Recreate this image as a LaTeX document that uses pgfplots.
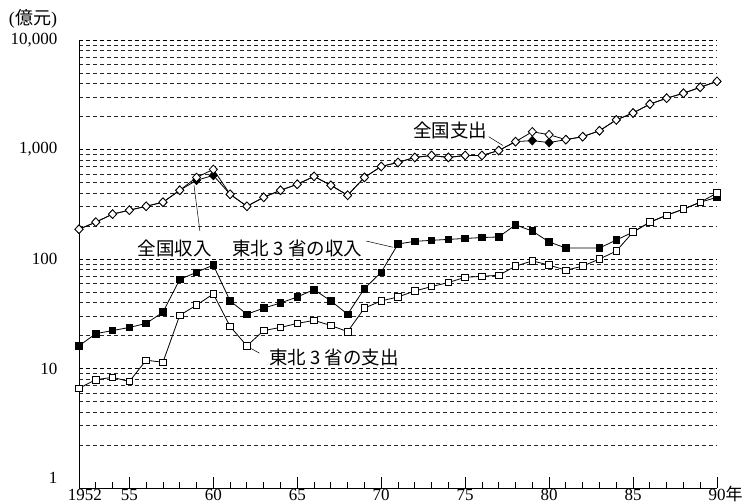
\documentclass[border=0pt]{standalone}
\usepackage{fontspec}
\setmainfont{Liberation Serif}
\newfontfamily\cjk{Noto Sans CJK JP}
\usepackage{pgfplots}
\pgfplotsset{compat=1.18}
\begin{document}
\begin{tikzpicture}
\useasboundingbox (-79bp,-16bp) rectangle (672bp,488bp);
\begin{axis}[
  at={(0,0)}, anchor=south west,
  scale only axis, width=638bp, height=448bp,
  xmin=1952, xmax=1990, ymode=log, ymin=0.81, ymax=10000,
  clip=false,
  axis x line=bottom, axis y line=left,
  axis line style={-, line width=0.9bp},
  xtick={1952,1955,1960,...,1990},
  xticklabels={{\hspace*{12bp}1952},55,60,65,70,75,80,85,{90\rlap{\cjk 年}}},
  minor xtick={1953,1954,...,1989},
  xtick align=inside,
  major tick length=11bp, minor tick length=6bp,
  xtick style={line width=0.8bp, black},
  ytick={10,100,1000,10000}, yticklabels={10,100,{1,000},{10,000}},
  extra y ticks={1}, extra y tick labels={1}, extra y tick style={grid=none},
  minor ytick={2,3,...,9,20,30,...,90,200,300,...,900,2000,3000,...,9000},
  ytick style={draw=none},
  ymajorgrids, yminorgrids,
  major grid style={dash pattern=on 4bp off 3bp, line width=0.5bp, black},
  minor grid style={dash pattern=on 4bp off 3bp, line width=0.5bp, black!85},
  tick label style={font=\fontsize{17bp}{17bp}\selectfont},
  xticklabel style={inner sep=0pt, anchor=north, text height=11bp, text depth=0pt, yshift=-1bp},
  yticklabel style={inner sep=0pt, anchor=east, xshift=-16bp},
  /pgf/number format/assume math mode=true,
]
% 全国収入
\addplot[black, line width=0.8bp, mark=diamond*, mark size=4.3bp, mark options={solid, fill=black, xscale=1.25}] coordinates {
(1952,187) (1953,217) (1954,257) (1955,279) (1956,303) (1957,330) (1958,424) (1959,523) (1960,580)
(1961,390) (1962,303) (1963,366) (1964,424) (1965,481) (1966,568) (1967,471) (1968,382) (1969,556)
(1970,700) (1971,762) (1972,846) (1973,882) (1974,846) (1975,882) (1976,882) (1977,979) (1978,1180)
(1979,1205) (1980,1157) (1981,1230) (1982,1310) (1983,1483) (1984,1864) (1985,2154) (1986,2596)
(1987,2940) (1988,3263) (1989,3700) (1990,4190)};
% 全国支出
\addplot[black, line width=0.8bp, mark=diamond*, mark size=4.3bp, mark options={solid, fill=white, xscale=1.25}] coordinates {
(1952,187) (1953,217) (1954,257) (1955,279) (1956,303) (1957,330) (1958,424) (1959,556) (1960,658)
(1961,390) (1962,303) (1963,366) (1964,424) (1965,481) (1966,568) (1967,471) (1968,382) (1969,556)
(1970,700) (1971,762) (1972,846) (1973,882) (1974,846) (1975,882) (1976,882) (1977,979) (1978,1180)
(1979,1452) (1980,1365) (1981,1230) (1982,1310) (1983,1483) (1984,1864) (1985,2154) (1986,2596)
(1987,2940) (1988,3263) (1989,3700) (1990,4190)};
% 東北3省の収入
\addplot[black, line width=0.8bp, mark=square*, mark size=3.3bp, mark options={solid, fill=black}] coordinates {
(1952,16.1) (1953,20.8) (1954,22.2) (1955,23.7) (1956,25.8) (1957,32.7) (1958,65) (1959,75.7) (1960,88)
(1961,41.4) (1962,31.3) (1963,35.6) (1964,39.6) (1965,45) (1966,52.5) (1967,41.4) (1968,31.3) (1969,53.6)
(1970,75.7) (1971,137) (1972,145) (1973,148) (1974,151) (1975,154) (1976,157) (1977,159) (1978,205)
(1979,180) (1980,143) (1981,126) (1983,126) (1984,149) (1985,176) (1986,217) (1987,251) (1988,285)
(1989,330) (1990,366)};
% 東北3省の支出
\addplot[black, line width=0.8bp, mark=square*, mark size=3.3bp, mark options={solid, fill=white}] coordinates {
(1952,6.6) (1953,7.9) (1954,8.3) (1955,7.6) (1956,11.9) (1957,11.4) (1958,30.6) (1959,37.9) (1960,48)
(1961,24.2) (1962,16.1) (1963,22.2) (1964,23.7) (1965,25.8) (1966,27.5) (1967,24.7) (1968,21.7) (1969,35.6)
(1970,41.4) (1971,45) (1972,51) (1973,56) (1974,61) (1975,68) (1976,69.5) (1977,71) (1978,86)
(1979,96) (1980,88) (1981,79) (1982,86) (1983,100) (1984,118) (1985,176) (1986,217) (1987,251)
(1988,285) (1989,330) (1990,400)};
% annotations
\node[font=\cjk\fontsize{18.5bp}{18.5bp}\selectfont] at (axis cs:1974.1,1483) {全国支出};
\draw[line width=0.5bp] (axis cs:1976.4,1310) -- (axis cs:1977.25,1087);
\node[font=\cjk\fontsize{18.5bp}{18.5bp}\selectfont] at (axis cs:1957.7,126) {全国収入};
\draw[line width=0.5bp] (axis cs:1959.2,180) -- (axis cs:1958.85,470);
\node[font=\cjk\fontsize{18.5bp}{18.5bp}\selectfont] at (axis cs:1965.0,126) {東北 3 省の収入};
\draw[line width=0.5bp] (axis cs:1969.1,146) -- (axis cs:1970.7,128);
\node[font=\cjk\fontsize{18.5bp}{18.5bp}\selectfont] at (axis cs:1967.2,12.7) {東北 3 省の支出};
\draw[line width=0.5bp] (axis cs:1962.75,13.8) -- (axis cs:1962.25,15.2);
\node[font=\fontsize{18bp}{18bp}\selectfont, inner sep=0pt] at ([xshift=-46bp,yshift=21bp]rel axis cs:0,1) {(\kern0.5pt{\cjk 億元})};
\end{axis}
\end{tikzpicture}
\end{document}
